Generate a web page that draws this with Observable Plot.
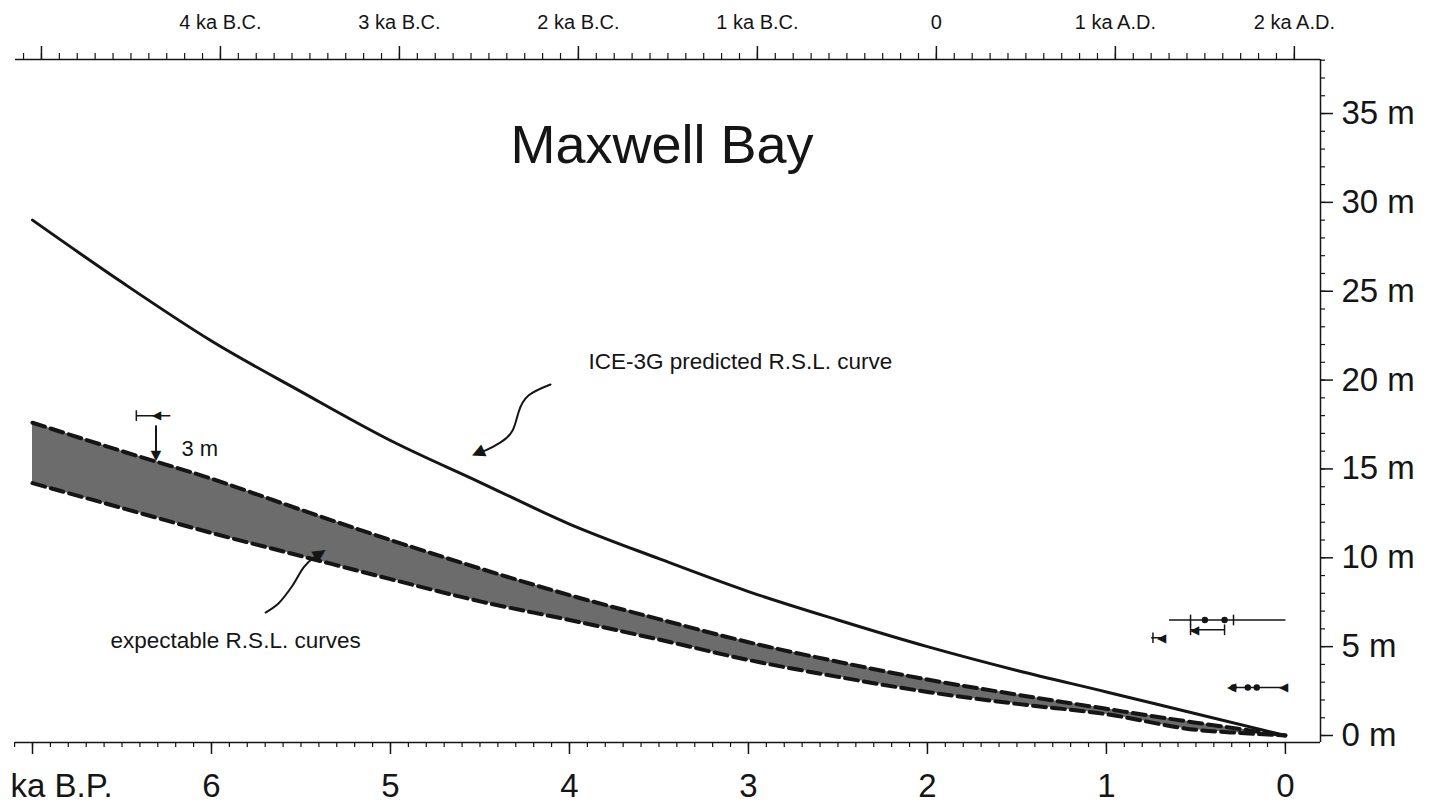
<!DOCTYPE html>
<html><head><meta charset="utf-8">
<script src="https://cdn.jsdelivr.net/npm/d3@7"></script>
<script src="https://cdn.jsdelivr.net/npm/@observablehq/plot@0.6"></script>
<style>body{margin:0;background:#fff;} svg{display:block}</style>
</head><body><div id="chart"></div>
<script>
// ---- data (ka B.P., metres) ----
const iceKa = [7, 6.5, 6, 5.5, 5, 4.5, 4, 3.5, 3, 2.5, 2, 1.5, 1, 0.5, 0];
const iceM  = [29.0, 25.5, 22.2, 19.35, 16.6, 14.25, 11.9, 9.95, 8.1, 6.5, 5.0, 3.66, 2.45, 1.22, 0];

const bandKa    = [7, 6.5, 6, 5.5, 5, 4.5, 4, 3.5, 3, 2.5, 2, 1.5, 1, 0.5, 0.25, 0];
const bandUpper = [17.6, 16.0, 14.45, 12.7, 11.0, 9.4, 7.9, 6.55, 5.25, 4.15, 3.15, 2.3, 1.5, 0.72, 0.36, 0];
const bandLower = [14.2, 12.8, 11.4, 10.1, 8.8, 7.55, 6.5, 5.4, 4.25, 3.3, 2.45, 1.78, 1.2, 0.32, 0.14, 0];

// sample error bars
const barM    = [18.0, 6.5, 5.95, 5.5, 2.7];
const barFrom = [6.42, 0.65, 0.53, 0.75, 0.31];
const barTo   = [6.23, 0.0, 0.34, 0.68, 0.0];
const capKa = [6.42, 0.53, 0.29, 0.53, 0.34, 0.74];
const capM  = [18.0, 6.5, 6.5, 5.95, 5.95, 5.5];
const dotKa = [0.45, 0.34, 0.29, 0.21, 0.16];
const dotM  = [6.5, 6.5, 2.7, 2.7, 2.7];
const triKa = [6.31, 0.51, 0.69, 0.30, 0.01];
const triM  = [18.0, 5.95, 5.5, 2.7, 2.7];

// axes
const bottomTicks  = [7, 6, 5, 4, 3, 2, 1, 0];
const bottomLabels = ["ka B.P.", "6", "5", "4", "3", "2", "1", "0"];
const topTicks  = [6.95, 5.95, 4.95, 3.95, 2.95, 1.95, 0.95, -0.05];
const topLabels = ["", "4 ka B.C.", "3 ka B.C.", "2 ka B.C.", "1 ka B.C.", "0", "1 ka A.D.", "2 ka A.D."];
const rightTicks  = [0, 5, 10, 15, 20, 25, 30, 35];
const rightLabels = ["0 m", "5 m", "10 m", "15 m", "20 m", "25 m", "30 m", "35 m"];

// annotations
const titleText = "Maxwell Bay";
const iceLabel = {ka: 3.894, m: 21.05, t: "ICE-3G predicted R.S.L. curve"};
const bandLabel = {ka: 6.564, m: 5.35, t: "expectable R.S.L. curves"};
const shiftLabel = {ka: 6.168, m: 16.15, t: "3 m"};
const shiftArrow = {ka: 6.31, m1: 17.45, m2: 15.9, tip: 15.75};
const icePointerKa = [4.106, 4.229, 4.285, 4.318, 4.385, 4.469, 4.515];
const icePointerM  = [19.75, 19.13, 18.18, 17.16, 16.49, 16.04, 15.89];
const bandPointerKa = [5.698, 5.626, 5.547, 5.486, 5.436, 5.39];
const bandPointerM  = [6.92, 7.43, 8.44, 9.45, 9.96, 10.25];

// ---- build tables ----
const iceRows = iceKa.map((ka, i) => ({ka, m: iceM[i]}));
const bandRows = bandKa.map((ka, i) => ({ka, upper: bandUpper[i], lower: bandLower[i]}));
const barRows = barM.map((m, i) => ({m, x1: barFrom[i], x2: barTo[i]}));
const capRows = capKa.map((ka, i) => ({ka, m1: capM[i] - 0.3, m2: capM[i] + 0.3}));
const dotRows = dotKa.map((ka, i) => ({ka, m: dotM[i]}));
const triRows = triKa.map((ka, i) => ({ka, m: triM[i]}));
const bottomRows = bottomTicks.map((v, i) => ({v, t: bottomLabels[i]}));
const topRows = topTicks.map((v, i) => ({v, t: topLabels[i]}));
const rightRows = rightTicks.map((v, i) => ({v, t: rightLabels[i]}));
const icePointer = icePointerKa.map((ka, i) => ({ka, m: icePointerM[i]}));
const bandPointer = bandPointerKa.map((ka, i) => ({ka, m: bandPointerM[i]}));

const xDom = [7.095, -0.196], yDom = [-0.394, 38.04];
const mL = 15, mR = 121, mT = 59, mB = 67, W = 1441, H = 809;
const fw = W - mL - mR, fh = H - mT - mB;
const FONT = "'Liberation Sans', Arial, Helvetica, sans-serif";
const INK = "#151515";

const bottomMinor = d3.range(0, 72).map(i => +(7.1 - 0.1 * i).toFixed(2));
const topMinor = d3.range(0, 72).map(i => +(7.05 - 0.1 * i).toFixed(2));
const rightMinor = d3.range(0, 39);

const chart = Plot.plot({
  width: W, height: H,
  marginLeft: mL, marginRight: mR, marginTop: mT, marginBottom: mB,
  x: {domain: xDom, axis: null},
  y: {domain: yDom, axis: null},
  style: {fontFamily: FONT, background: "#fff", overflow: "visible", color: INK},
  marks: [
    Plot.areaY(bandRows, {x: "ka", y1: "lower", y2: "upper", fill: "#6c6c6c", curve: "monotone-x"}),
    Plot.line(bandRows, {x: "ka", y: "upper", stroke: INK, strokeWidth: 4, strokeDasharray: "13,6", curve: "monotone-x"}),
    Plot.line(bandRows, {x: "ka", y: "lower", stroke: INK, strokeWidth: 4, strokeDasharray: "13,6", curve: "monotone-x"}),
    Plot.line(iceRows, {x: "ka", y: "m", stroke: INK, strokeWidth: 3, curve: "monotone-x"}),

    Plot.ruleY([yDom[1]], {stroke: INK, strokeWidth: 1.5}),
    Plot.ruleY([yDom[0]], {stroke: INK, strokeWidth: 1.5}),
    Plot.ruleX([xDom[1]], {stroke: INK, strokeWidth: 1.5}),

    Plot.ruleX(bottomMinor, {stroke: INK, strokeWidth: 1.2, insetTop: fh, insetBottom: -5}),
    Plot.ruleX(bottomRows, {x: "v", stroke: INK, strokeWidth: 1.5, insetTop: fh, insetBottom: -12}),
    Plot.text(bottomRows.slice(1), {x: "v", text: "t", frameAnchor: "bottom", dy: 54, fontSize: 33, fill: INK}),
    Plot.text(bottomRows.slice(0, 1), {x: "v", text: "t", frameAnchor: "bottom", dy: 54, dx: -22, textAnchor: "start", fontSize: 33, fill: INK}),

    Plot.ruleX(topMinor, {stroke: INK, strokeWidth: 1.2, insetTop: -6, insetBottom: fh}),
    Plot.ruleX(topRows, {x: "v", stroke: INK, strokeWidth: 1.5, insetTop: -13, insetBottom: fh}),
    Plot.text(topRows, {x: "v", text: "t", frameAnchor: "top", dy: -45, fontSize: 20, fill: INK}),

    Plot.ruleY(rightMinor, {stroke: INK, strokeWidth: 1.2, insetLeft: fw, insetRight: -5}),
    Plot.ruleY(rightRows, {y: "v", stroke: INK, strokeWidth: 1.5, insetLeft: fw, insetRight: -13}),
    Plot.text(rightRows, {y: "v", text: "t", frameAnchor: "right", dx: 21, textAnchor: "start", fontSize: 33, fill: INK}),

    Plot.link(barRows, {x1: "x1", x2: "x2", y1: "m", y2: "m", stroke: INK, strokeWidth: 1.5}),
    Plot.link(capRows, {x1: "ka", x2: "ka", y1: "m1", y2: "m2", stroke: INK, strokeWidth: 1.5}),
    Plot.dot(dotRows, {x: "ka", y: "m", r: 3.2, fill: INK}),
    Plot.text(triRows, {x: "ka", y: "m", text: () => "\u25C0", fontSize: 12, fill: INK}),

    Plot.link([shiftArrow], {x1: "ka", x2: "ka", y1: "m1", y2: "m2", stroke: INK, strokeWidth: 2}),
    Plot.text([shiftArrow], {x: "ka", y: "tip", text: () => "\u25BC", fontSize: 18, fill: INK}),
    Plot.text([shiftLabel], {x: "ka", y: "m", text: "t", textAnchor: "start", fontSize: 22, fill: INK}),

    Plot.line(icePointer, {x: "ka", y: "m", stroke: INK, strokeWidth: 2, curve: "natural"}),
    Plot.text(icePointer.slice(-1), {x: "ka", y: "m", text: () => "\u25B2", rotate: 246, fontSize: 22, fill: INK}),
    Plot.line(bandPointer, {x: "ka", y: "m", stroke: INK, strokeWidth: 2, curve: "catmull-rom"}),
    Plot.text(bandPointer.slice(-1), {x: "ka", y: "m", text: () => "\u25B2", rotate: 57, fontSize: 22, fill: INK}),

    Plot.text([iceLabel], {x: "ka", y: "m", text: "t", textAnchor: "start", fontSize: 22.5, fill: INK}),
    Plot.text([bandLabel], {x: "ka", y: "m", text: "t", textAnchor: "start", fontSize: 22.5, fill: INK}),
    Plot.text([titleText], {text: d => d, frameAnchor: "top", dy: 65, dx: -6, fontSize: 54, fill: INK})
  ]
});
document.getElementById("chart").appendChild(chart);
</script>
</body></html>
